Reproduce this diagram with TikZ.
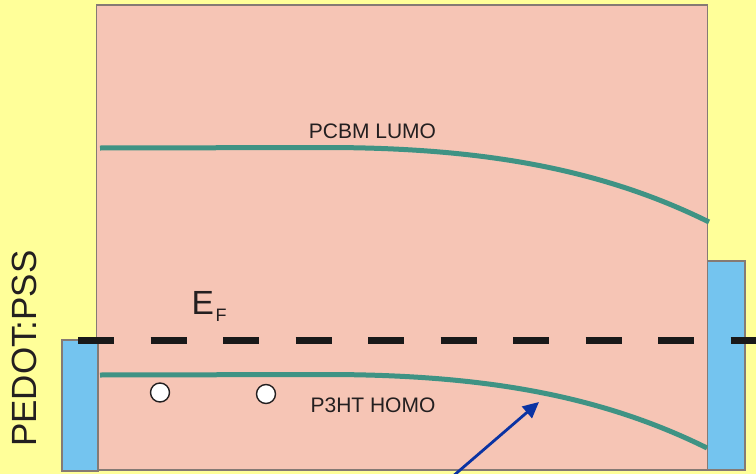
\documentclass[tikz,border=0pt]{standalone}
\usepackage{fontspec}
\setmainfont{Liberation Sans}
\usetikzlibrary{arrows.meta}
\definecolor{bgyellow}{HTML}{FFFF99}
\definecolor{salmon}{HTML}{F6C5B5}
\definecolor{barblue}{HTML}{74C4EF}
\definecolor{teal}{HTML}{3F9384}
\definecolor{arrowblue}{HTML}{0A33A3}
\definecolor{txt}{HTML}{231F20}
\definecolor{edge}{HTML}{857A74}
\tikzset{
  region/.style={draw=edge, line width=1.2pt, fill=salmon},
  electrode/.style={draw=edge, line width=1.2pt, fill=barblue},
  level/.style={draw=teal, line width=5pt},
  fermi/.style={draw=black!90, line width=7pt, dash pattern=on 36pt off 36.5pt},
  hole/.style={circle, draw=txt, line width=1.4pt, fill=white, minimum size=19pt, inner sep=0pt},
  lbl/.style={text=txt, inner sep=0pt, font=\fontsize{21}{21}\selectfont},
  pointer/.style={draw=arrowblue, line width=2.8pt, -{Triangle[length=16pt,width=15pt]}}
}
\begin{document}
\begin{tikzpicture}[x=1pt,y=-1pt]
\useasboundingbox (0,0) rectangle (756,474);
\fill[bgyellow] (0,0) rectangle (756,474);
% active layer
\draw[region] (96.5,5) rectangle (707.5,470);
% electrodes
\draw[electrode] (62,340) rectangle (98,471);
\draw[electrode] (707.5,261) rectangle (745,470);
% Fermi level
\coordinate (efL) at (78,340);
\coordinate (efR) at (760,340);
\draw[fermi] (efL) -- (efR);
% LUMO
\coordinate (l0) at (100,148);
\coordinate (l1) at (330,147.5);
\coordinate (l2) at (709,222);
\draw[level] (l0) -- (l1) .. controls (480,148) and (600,168) .. (l2);
% HOMO
\coordinate (h0) at (100,375);
\coordinate (h1) at (330,374.5);
\coordinate (h2) at (707,448);
\draw[level] (h0) -- (h1) .. controls (480,375) and (598,394) .. (h2);
% holes
\node[hole] (c1) at (160,392.5) {};
\node[hole] (c2) at (266,394) {};
% labels
\node[lbl] (lumo) at (372.5,131) {PCBM LUMO};
\node[lbl] (homo) at (373,405) {P3HT HOMO};
\node[text=txt, inner sep=0pt, anchor=base west, font=\fontsize{33.5}{33.5}\selectfont] (ef) at (191.5,314) {E\kern1.5pt\raisebox{-7.7pt}{\fontsize{18}{18}\selectfont F}};
\node[text=txt, inner sep=0pt, anchor=base west, rotate=90, font=\fontsize{35}{35}\selectfont] (pedot) at (36,447) {PEDOT:PSS};
% arrow
\coordinate (arrS) at (452,477);
\coordinate (arrE) at (539,402);
\draw[pointer] (arrS) -- (arrE);
\end{tikzpicture}
\end{document}
